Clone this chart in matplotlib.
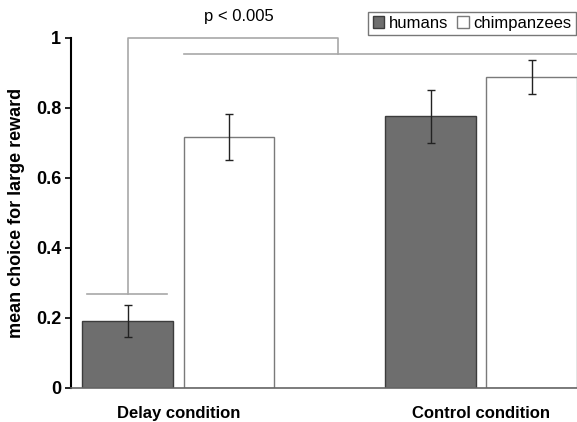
import matplotlib
matplotlib.use("Agg")
from matplotlib import pyplot as plt

conditions = ["Delay condition", "Control condition"]
humans = [0.191, 0.776]
humans_err = [0.045, 0.075]
chimps = [0.717, 0.889]
chimps_err = [0.066, 0.049]
p_text = "p < 0.005"

plt.rcParams['font.family'] = ['Liberation Sans', 'DejaVu Sans']

fig = plt.figure(figsize=(5.77, 4.22), dpi=100)
ax = fig.add_axes([0.123, 0.0806, 0.877, 0.8294])

x = range(len(conditions))
w = 0.3
off = 0.167
xh = [i - off for i in x]
xc = [i + off for i in x]

ax.bar(xh, humans, width=w, color='#6e6e6e', edgecolor='#3c3c3c', linewidth=1, label='humans', zorder=2)
ax.bar(xc, chimps, width=w, color='white', edgecolor='#7a7a7a', linewidth=1, label='chimpanzees', zorder=2)
ax.errorbar(xh, humans, yerr=humans_err, fmt='none', ecolor='#222222', elinewidth=1, capsize=3, zorder=3)
ax.errorbar(xc, chimps, yerr=chimps_err, fmt='none', ecolor='#222222', elinewidth=1, capsize=3, zorder=3)

ax.set_xlim(-0.355, 1.317)
ax.set_ylim(0, 1)

# significance bracket
lc = '#a8a8a8'
kw = dict(color=lc, linewidth=1.2, clip_on=False, zorder=1)
ax.plot([-0.302, -0.038], [0.268, 0.268], **kw)
ax.plot([xh[0], xh[0], 0.527, 0.527], [0.268, 1.0, 1.0, 0.954], **kw)
ax.plot([0.017, 1.317], [0.954, 0.954], **kw)
ax.text(0.2, 1.06, p_text, ha='center', va='center', fontsize=12, clip_on=False)

ax.spines['top'].set_visible(False)
ax.spines['right'].set_visible(False)
ax.spines['left'].set_linewidth(1.5)
ax.spines['bottom'].set_color('#666666')
ax.spines['bottom'].set_linewidth(1.2)

ax.set_yticks([0, 0.2, 0.4, 0.6, 0.8, 1])
ax.set_yticklabels(['0', '0.2', '0.4', '0.6', '0.8', '1'], fontsize=13, fontweight='bold')
ax.tick_params(axis='y', direction='out', length=4, width=1.2, pad=3)
ax.set_xticks(list(x))
ax.set_xticklabels(conditions, fontsize=12, fontweight='bold')
ax.tick_params(axis='x', length=0, pad=13)

ax.set_ylabel('mean choice for large reward', fontsize=13, fontweight='bold', labelpad=8)

leg = ax.legend(loc='upper right', bbox_to_anchor=(0.998, 1.075), ncol=2, fontsize=12,
                frameon=True, fancybox=False, handlelength=0.7, handleheight=0.7,
                handletextpad=0.3, columnspacing=0.5, borderpad=0.25, borderaxespad=0)
leg.get_frame().set_edgecolor('#555555')
leg.get_frame().set_linewidth(1)

plt.savefig('out.png', dpi=100)
